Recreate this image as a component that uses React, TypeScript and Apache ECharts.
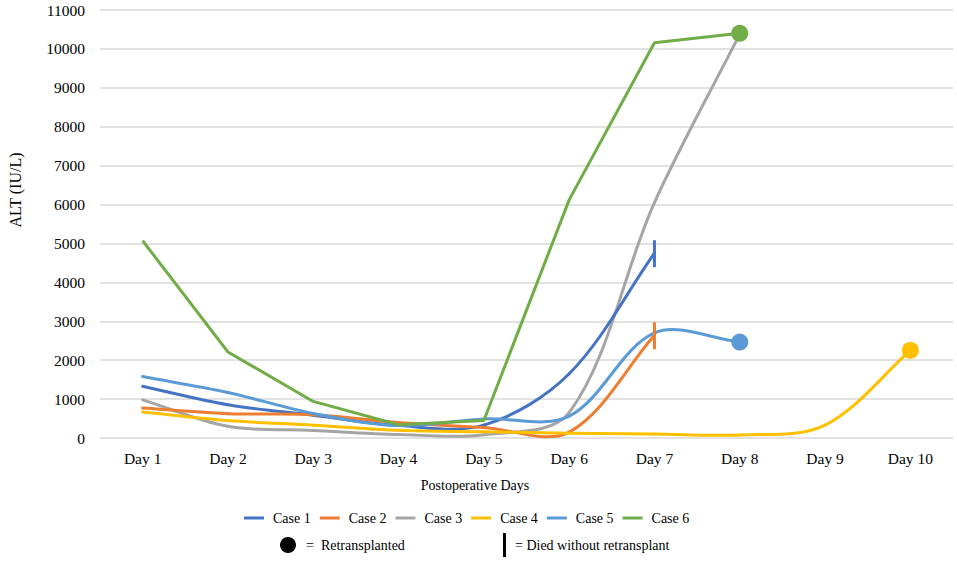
import React, { useEffect, useRef } from "react";
import * as echarts from "echarts";

const days = ["Day 1", "Day 2", "Day 3", "Day 4", "Day 5", "Day 6", "Day 7", "Day 8", "Day 9", "Day 10"];
const case1 = [1330, 855, 585, 320, 330, 1650, 4750];
const case2 = [770, 625, 600, 400, 270, 150, 2640];
const case3 = [980, 300, 195, 90, 85, 650, 6050, 10380];
const case4 = [670, 450, 330, 200, 160, 120, 100, 80, 330, 2250];
const case5 = [1580, 1170, 630, 320, 490, 560, 2700, 2465];
const case6 = [5070, 2210, 940, 340, 450, 6120, 10160, 10400];
const yTicks = [0, 11000, 1000];

const FONT = "Liberation Serif";

type Marker = "dot" | "bar" | null;

function dist(a: number[], b: number[]) {
  return Math.hypot(a[0] - b[0], a[1] - b[1]);
}

function smoothSeries(name: string, vals: number[], color: string, marker: Marker, z: number) {
  const n = vals.length;
  const s = 1 / 3;
  return {
    name,
    type: "custom",
    z,
    data: vals.map((v, i) => [i, v]),
    encode: { x: 0, y: 1 },
    itemStyle: { color },
    emphasis: { disabled: true },
    renderItem: (params: any, api: any) => {
      const i = params.dataIndex;
      const c = (k: number) => Math.max(0, Math.min(n - 1, k));
      const p = (k: number) => api.coord([c(k), vals[c(k)]]);
      const children: any[] = [];
      if (i < n - 1) {
        const P0 = p(i - 1), P1 = p(i), P2 = p(i + 1), P3 = p(i + 2);
        const d01 = dist(P0, P1), d12 = dist(P1, P2), d23 = dist(P2, P3);
        const f1 = d01 + d12 > 0 ? (s * d12) / (d01 + d12) : 0;
        const f2 = d12 + d23 > 0 ? (s * d12) / (d12 + d23) : 0;
        children.push({
          type: "bezierCurve",
          shape: {
            x1: P1[0], y1: P1[1],
            cpx1: P1[0] + (P2[0] - P0[0]) * f1, cpy1: P1[1] + (P2[1] - P0[1]) * f1,
            cpx2: P2[0] - (P3[0] - P1[0]) * f2, cpy2: P2[1] - (P3[1] - P1[1]) * f2,
            x2: P2[0], y2: P2[1],
          },
          style: { stroke: color, lineWidth: 3, fill: null, lineCap: "round" },
        });
      } else if (marker) {
        const P = p(i);
        if (marker === "dot") {
          children.push({ type: "circle", shape: { cx: P[0], cy: P[1], r: 8.5 }, style: { fill: color }, z2: 10 });
        } else {
          children.push({ type: "rect", shape: { x: P[0] - 1.5, y: P[1] - 13, width: 3, height: 27 }, style: { fill: color }, z2: 10 });
        }
      }
      return { type: "group", children };
    },
  };
}

export default function App() {
  const ref = useRef<HTMLDivElement>(null);
  useEffect(() => {
    document.body.style.margin = "0";
    const chart = echarts.init(ref.current!, null, { renderer: "svg" });
    chart.setOption({
      animation: false,
      backgroundColor: "#ffffff",
      grid: { left: 100, right: 4, top: 10, bottom: 124 },
      xAxis: {
        type: "category",
        data: days,
        boundaryGap: true,
        axisLine: { show: false },
        axisTick: { show: false },
        axisLabel: { color: "#000", fontFamily: FONT, fontSize: 15.5, margin: 12 },
      },
      yAxis: {
        type: "value",
        min: yTicks[0],
        max: yTicks[1],
        interval: yTicks[2],
        axisLine: { show: false },
        axisTick: { show: false },
        axisLabel: { color: "#000", fontFamily: FONT, fontSize: 15.5, margin: 15, formatter: (v: number) => String(v) },
        splitLine: { lineStyle: { color: "#d9d9d9", width: 1.5 } },
      },
      legend: {
        data: ["Case 1", "Case 2", "Case 3", "Case 4", "Case 5", "Case 6"],
        left: 239,
        top: 506,
        icon: "rect",
        itemWidth: 20,
        itemHeight: 3,
        itemGap: 9,
        textStyle: { color: "#000", fontFamily: FONT, fontSize: 14, padding: [0, 0, 0, 4] },
      },
      series: [
        smoothSeries("Case 1", case1, "#4472C4", "bar", 3),
        smoothSeries("Case 2", case2, "#ED7D31", "bar", 3),
        smoothSeries("Case 3", case3, "#A5A5A5", null, 2),
        smoothSeries("Case 4", case4, "#FFC000", "dot", 3),
        smoothSeries("Case 5", case5, "#5B9BD5", "dot", 3),
        {
          name: "Case 6",
          type: "line",
          z: 4,
          data: case6.map((v, i) =>
            i === case6.length - 1 ? { value: v, symbol: "circle", symbolSize: 17 } : { value: v }
          ),
          smooth: false,
          symbol: "none",
          lineStyle: { color: "#70AD47", width: 3 },
          itemStyle: { color: "#70AD47" },
          emphasis: { disabled: true },
        },
      ],
      graphic: [
        {
          type: "text",
          x: 15,
          y: 190,
          rotation: Math.PI / 2,
          style: { text: "ALT (IU/L)", fill: "#000", font: "16px 'Liberation Serif'", align: "center", verticalAlign: "middle" },
        },
        {
          type: "text",
          x: 475,
          y: 485,
          style: { text: "Postoperative Days", fill: "#000", font: "14px 'Liberation Serif'", align: "center", verticalAlign: "middle" },
        },
        { type: "circle", shape: { cx: 288, cy: 545, r: 8 }, style: { fill: "#000" } },
        {
          type: "text",
          x: 306,
          y: 545,
          style: { text: "=  Retransplanted", fill: "#000", font: "14px 'Liberation Serif'", align: "left", verticalAlign: "middle" },
        },
        { type: "rect", shape: { x: 503, y: 533, width: 3, height: 24 }, style: { fill: "#000" } },
        {
          type: "text",
          x: 515,
          y: 545,
          style: { text: "= Died without retransplant", fill: "#000", font: "14px 'Liberation Serif'", align: "left", verticalAlign: "middle" },
        },
      ],
    });
    return () => chart.dispose();
  }, []);
  return <div ref={ref} style={{ width: 957, height: 562 }} />;
}
